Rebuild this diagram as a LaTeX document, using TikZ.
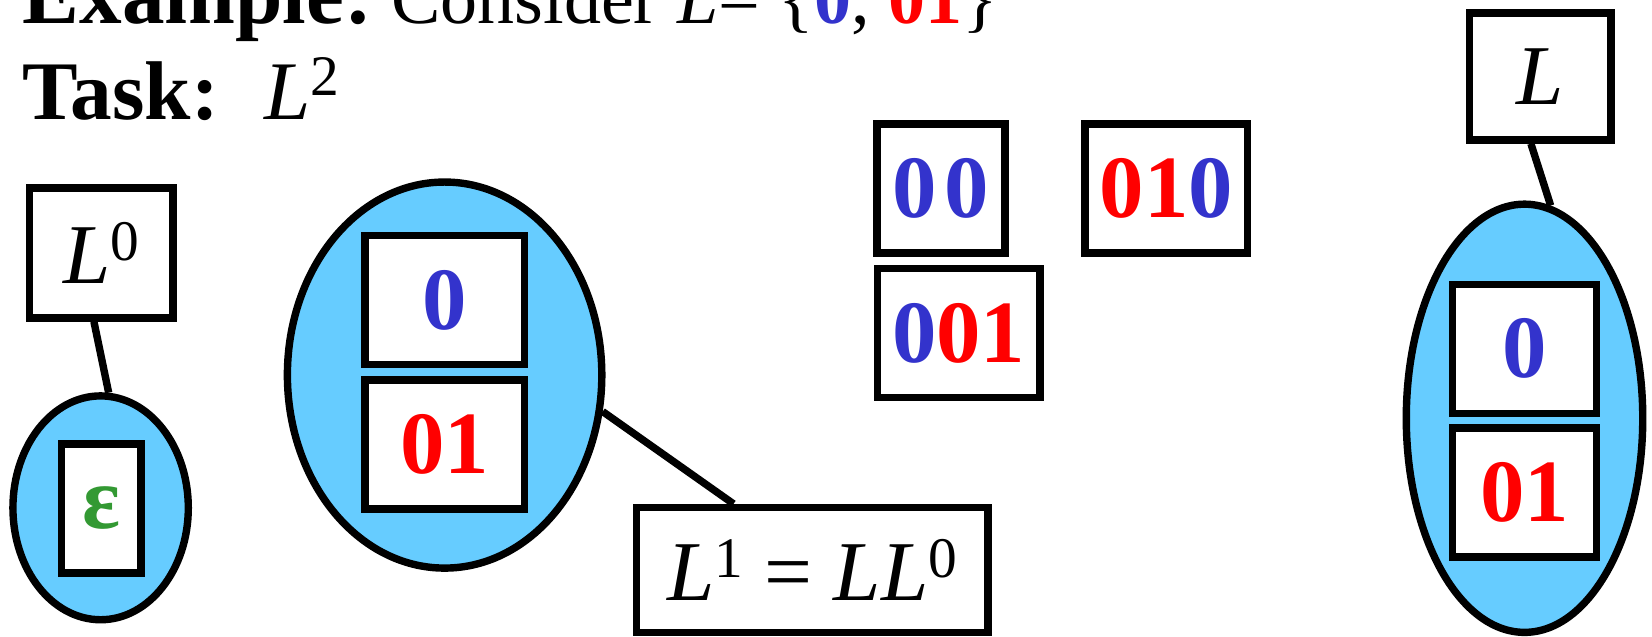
\documentclass[tikz,border=0pt]{standalone}
\usepackage{fontspec}
\setmainfont{Liberation Serif}
\usetikzlibrary{shapes.geometric,calc}
\definecolor{zblue}{RGB}{51,51,204}
\definecolor{skyfill}{RGB}{102,204,255}
\definecolor{epsgreen}{RGB}{51,153,51}
\newcommand{\sups}[1]{\raisebox{0.28em}{\fontsize{31}{31}\selectfont #1}}
\begin{document}
\begin{tikzpicture}[x=0.02cm, y=-0.02cm, line width=4pt,
	box/.style={draw, fill=white, inner sep=0pt, minimum height=2.45cm},
	blob/.style={draw, ellipse, fill=skyfill, inner sep=0pt},
	lab/.style={font=\fontsize{46}{46}\selectfont},
	dig/.style={font=\fontsize{48}{48}\selectfont\bfseries}]
			\useasboundingbox (0,0) rectangle (1568,604);
			\node[anchor=base west, inner sep=0pt] (ex) at (18,22) {\fontsize{46}{46}\selectfont\textbf{Example:}\fontsize{40}{40}\selectfont\ Consider \textit{L}= \{\textcolor{zblue}{\textbf{0}}, \textcolor{red}{\textbf{01}}\}};
			\node[anchor=base west, inner sep=0pt] (task) at (18,113) {\fontsize{45}{45}\selectfont\textbf{Task:}\hspace{0.55em}\textit{L}\sups{2}};
			% L^0
			\node[box, lab, minimum width=2.73cm, minimum height=2.47cm] (L0) at (96,240) {\textit{L}\sups{0}};
			\node[blob, minimum width=3.33cm, minimum height=4.25cm] (e0) at (95.5,482) {};
			\node[box, dig, minimum width=1.51cm, text=epsgreen] (eps) at (96,482.6) {ε};
			\draw (L0.264) -- (e0.86);
			% L^1
			\node[blob, minimum width=5.97cm, minimum height=7.33cm] (e1) at (422,356) {};
			\node[box, dig, minimum width=3.03cm, text=zblue] (a0) at (422,285) {0};
			\node[box, dig, minimum width=3.03cm, text=red] (a01) at (422,422) {01};
			\node[box, lab, minimum width=6.67cm, minimum height=2.37cm] (L1) at (771,541) {\textit{L}\sups{1} = \textit{LL}\sups{0}};
			\draw (e1.-13) -- (L1.140);
			% L^2
			\node[box, dig, minimum width=2.43cm] (s00) at (893,179) {\textcolor{zblue}{0\kern0.08em0}};
			\node[box, dig, minimum width=3.09cm] (s010) at (1107,179) {\textcolor{red}{01}\textcolor{zblue}{0}};
			\node[box, dig, minimum width=3.09cm] (s001) at (910,316) {\textcolor{zblue}{0}\textcolor{red}{01}};
			% L
			\node[box, lab, minimum width=2.69cm, minimum height=2.41cm] (L) at (1462,72.6) {\textit{L}};
			\node[blob, minimum width=4.49cm, minimum height=8.13cm] (e2) at (1447,397) {};
			\node[box, dig, minimum width=2.73cm, text=zblue] (c0) at (1447,331) {0};
			\node[box, dig, minimum width=2.73cm, text=red] (c01) at (1447,467.6) {01};
			\draw (L.262) -- (e2.83);
	\end{tikzpicture}
\end{document}
